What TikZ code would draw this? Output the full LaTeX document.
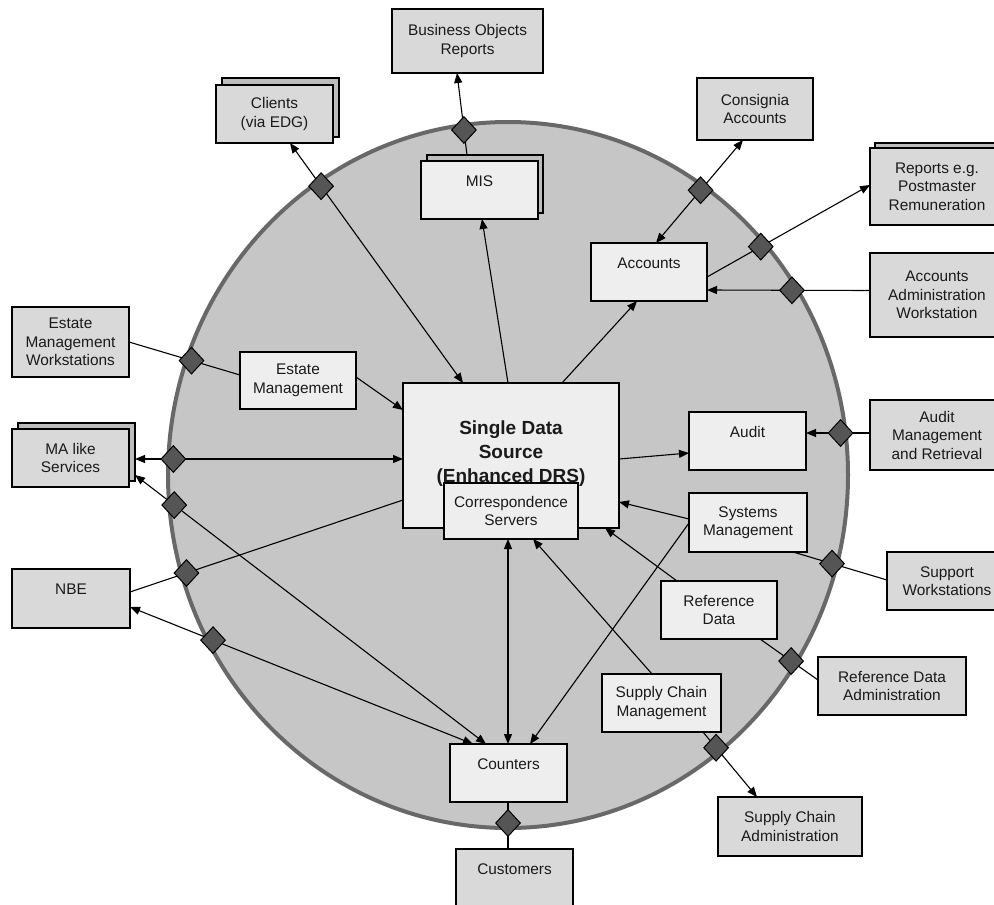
\documentclass[tikz,border=0pt]{standalone}
\usepackage{fontspec}
\setmainfont{Liberation Sans}
\usetikzlibrary{shapes.geometric,arrows.meta,intersections}
\definecolor{circfill}{HTML}{C6C6C6}
\definecolor{circline}{HTML}{686868}
\definecolor{ofill}{HTML}{D9D9D9}
\definecolor{ifill}{HTML}{EEEEEE}
\definecolor{bfill}{HTML}{BDBDBD}
\definecolor{dfill}{HTML}{555555}
\definecolor{txtc}{HTML}{1A1A1A}
\newcommand\mydia[1]{%
  \path[name intersections={of=l#1 and circ, by={i#1}}];
  \node[dia] (d#1) at (i#1) {};}
\begin{document}
\begin{tikzpicture}[x=1pt,y=-1pt,
  box/.style={draw=black, line width=1.6pt, inner sep=0pt, outer sep=0pt, align=center, text=txtc, font=\fontsize{15.4}{18.5}\selectfont},
  obox/.style={box, fill=ofill},
  ibox/.style={box, fill=ifill, line width=1.4pt},
  bbox/.style={box, fill=bfill},
  dia/.style={diamond, draw=black, fill=dfill, line width=1pt, minimum width=25pt, minimum height=27pt, inner sep=0pt},
  conn/.style={line width=1.1pt, draw=black},
  arr/.style={conn, -{Triangle[length=10pt,width=8pt]}},
  darr/.style={conn, {Triangle[length=10pt,width=8pt]}-{Triangle[length=10pt,width=8pt]}}]
\useasboundingbox (0,0) rectangle (994,905);
% big circle
\draw[line width=4pt, draw=circline, fill=circfill] (508,475) ellipse [x radius=340, y radius=353];
\path[name path=circ] (508,475) ellipse [x radius=335, y radius=348];
% outer boxes
\node[obox, minimum width=151pt, minimum height=64pt] (bor) at (467.5,41) {Business Objects\\Reports};
\node[bbox, minimum width=117pt, minimum height=59pt] (clientsb) at (280.5,107.5) {};
\node[obox, minimum width=117pt, minimum height=58pt] (clients) at (274.5,114) {Clients\\(via EDG)};
\node[obox, minimum width=116pt, minimum height=62pt] (cons) at (755,109) {Consignia\\Accounts};
\node[bbox, minimum width=134pt, minimum height=77pt] (repb) at (942,181.5) {};
\node[obox, minimum width=134pt, minimum height=77pt] (rep) at (937,186.5) {Reports e.g.\\Postmaster\\Remuneration};
\node[obox, minimum width=134pt, minimum height=84pt] (aaw) at (937,295) {Accounts\\Administration\\Workstation};
\node[obox, minimum width=117pt, minimum height=70pt] (emw) at (70.5,342) {Estate\\Management\\Workstations};
\node[bbox, minimum width=117pt, minimum height=58pt] (mab) at (76.5,452) {};
\node[obox, minimum width=117pt, minimum height=58pt] (ma) at (70.5,458) {MA like\\Services};
\node[obox, minimum width=118pt, minimum height=59pt] (nbe) at (71,598.5) {NBE\\\mbox{}};
\node[obox, minimum width=134pt, minimum height=70pt] (amr) at (937,435) {Audit\\Management\\and Retrieval};
\node[obox, minimum width=120pt, minimum height=58pt] (sup) at (947,581) {Support\\Workstations};
\node[obox, minimum width=148pt, minimum height=58pt] (rda) at (892,686) {Reference Data\\Administration};
\node[obox, minimum width=144pt, minimum height=59pt] (sca) at (790,826.5) {Supply Chain\\Administration};
\node[obox, minimum width=117pt, minimum height=58pt] (cust) at (514.5,878) {Customers\\\mbox{}};
% inner boxes
\node[bbox, minimum width=116pt, minimum height=58pt] (misb) at (485,184) {};
\node[ibox, minimum width=117pt, minimum height=58pt] (mis) at (479.5,190) {MIS\\\mbox{}};
\node[ibox, minimum width=116pt, minimum height=58pt] (acc) at (649,272) {Accounts\\\mbox{}};
\node[ibox, minimum width=116pt, minimum height=57pt] (em) at (298,380.5) {Estate\\Management};
\node[ibox, minimum width=216pt, minimum height=145pt] (sds) at (511,455.5) {};
\node[align=center, text=txtc, inner sep=0pt, font=\fontsize{19}{24}\selectfont\bfseries] (sdst) at (511,454) {Single Data\\Source\\(Enhanced DRS)};
\node[ibox, minimum width=134pt, minimum height=56pt] (cs) at (511,511) {Correspondence\\Servers};
\node[ibox, minimum width=117pt, minimum height=58pt] (audit) at (747.5,441) {Audit\\\mbox{}};
\node[ibox, minimum width=118pt, minimum height=59pt] (sys) at (748,522.5) {Systems\\Management};
\node[ibox, minimum width=116pt, minimum height=58pt] (ref) at (719,610) {Reference\\Data};
\node[ibox, minimum width=119pt, minimum height=58pt] (scm) at (661.5,703) {Supply Chain\\Management};
\node[ibox, minimum width=117pt, minimum height=58pt] (cnt) at (508.5,773) {Counters\\\mbox{}};
% connectors
\draw[arr, name path=la] ([xshift=-18pt]misb.north) -- ([xshift=-10.5pt]bor.south);
\draw[darr, name path=lb] ([xshift=-48pt]sds.north) -- ([xshift=15.5pt]clients.south);
\draw[arr] ([xshift=-3pt]sds.north) -- ([xshift=2.5pt]mis.south);
\draw[arr] ([xshift=51pt]sds.north) -- ([xshift=-12pt]acc.south);
\draw[darr, name path=le] ([xshift=7pt]acc.north) -- ([xshift=-12pt]cons.south);
\draw[arr, name path=lf] ([yshift=-5pt]acc.east) -- ([yshift=1.5pt]rep.west);
\draw[arr, name path=lg] ([yshift=4.5pt]aaw.west) -- ([yshift=-18pt]acc.east);
\draw[conn, name path=lh] (emw.east) -- ([yshift=5.5pt]em.west);
\draw[arr] ([yshift=3.5pt]em.east) -- ([yshift=45.5pt]sds.west);
\draw[darr, name path=lj] ([yshift=-7pt]mab.east) -- ([yshift=-3.5pt]sds.west);
\draw[darr, name path=lk] ([yshift=-23pt]mab.east) -- ([xshift=-22.5pt]cnt.north);
\draw[conn, name path=ll] ([yshift=-44.5pt]sds.west) -- ([yshift=6.5pt]nbe.east);
\draw[darr, name path=lm] ([yshift=-8.5pt]nbe.east) -- ([xshift=-35.5pt]cnt.north);
\draw[arr] ([yshift=-3.5pt]sds.east) -- ([yshift=-12pt]audit.west);
\draw[arr, name path=lo] ([yshift=2pt]amr.west) -- ([yshift=8pt]audit.east);
\draw[arr] ([yshift=3.5pt]sys.west) -- ([yshift=-46.5pt]sds.east);
\draw[conn, name path=lq] ([xshift=45pt]sys.south) -- ([yshift=1pt]sup.west);
\draw[arr] ([yshift=-0.5pt]sys.west) -- ([xshift=21.5pt]cnt.north);
\draw[arr] ([xshift=-42pt]ref.north) -- ([xshift=94pt]sds.south);
\draw[conn, name path=lt] ([xshift=41pt]ref.south) -- ([yshift=6pt]rda.west);
\draw[arr] ([xshift=-9.5pt]scm.north) -- ([xshift=22pt]cs.south);
\draw[arr, name path=lv] ([xshift=41.5pt]scm.south) -- ([xshift=-33pt]sca.north);
\draw[darr] ([xshift=-3pt]cs.south) -- ([xshift=-0.5pt]cnt.north);
\draw[conn, name path=lx] ([xshift=-0.5pt]cnt.south) -- ([xshift=-6.5pt]cust.north);
% diamonds on the circle
\mydia{a}\mydia{b}\mydia{e}\mydia{f}\mydia{g}
\mydia{h}\mydia{j}\mydia{k}\mydia{l}\mydia{m}
\mydia{o}\mydia{q}\mydia{t}\mydia{v}\mydia{x}
\end{tikzpicture}
\end{document}
